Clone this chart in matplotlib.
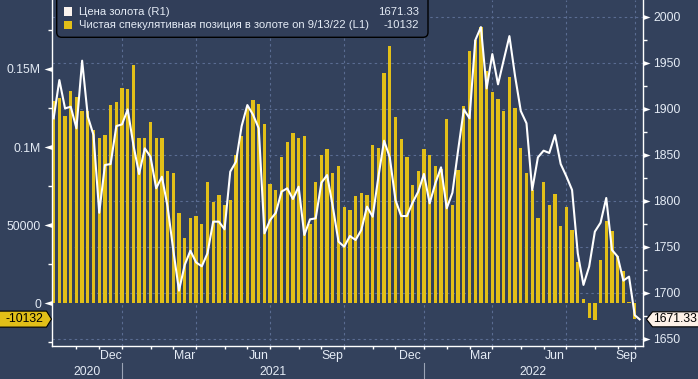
import numpy as np
import pandas as pd
import matplotlib
matplotlib.use("Agg")
import matplotlib.pyplot as plt
import matplotlib.transforms as mtransforms
from matplotlib.patches import Polygon, FancyBboxPatch, Rectangle
from matplotlib.path import Path

# ---------------- data ----------------
dates = pd.date_range("2020-10-02", periods=103, freq="7D")  # weekly (Fridays)

positioning = [
    129700, 131700, 120100, 136100, 132300, 122900, 123300, 111200, 105600, 108000,
    127200, 128700, 138100, 137400, 152800, 106100, 105600, 116300, 106100, 106100,
    84500, 83700, 58000, 42000, 54800, 56100, 51000, 77900, 65100, 69600,
    63200, 66400, 95000, 107300, 125000, 130400, 127800, 115000, 76600, 72800,
    93500, 103500, 109000, 106100, 107300, 51000, 77900, 95200, 99000, 83700,
    88100, 61900, 60000, 68500, 70400, 69600, 101600, 99700, 147200, 165000,
    119500, 105400, 93900, 76000, 84900, 99000, 95200, 88100, 86000, 118200,
    63200, 85600, 126500, 161800, 168400, 176700, 148700, 135100, 131000, 123300,
    145100, 125300, 99700, 83700, 72600, 54800, 77900, 63200, 70200, 49700,
    61900, 47200, 26700, 3000, -9600, -10500, 28000, 52900, 46500, 30500,
    20900, 1100, -10132,
]

gold_price = [
    1889.6, 1931.2, 1900.4, 1902.2, 1878.7, 1952.2, 1891.4, 1871.5, 1787.1, 1838.9,
    1840.0, 1881.2, 1883.0, 1899.3, 1860.6, 1829.1, 1857.0, 1847.9, 1813.6, 1826.2,
    1793.7, 1746.6, 1702.5, 1730.3, 1745.9, 1733.2, 1728.9, 1743.0, 1777.4, 1777.4,
    1769.1, 1831.7, 1842.5, 1881.2, 1904.0, 1893.5, 1878.7, 1764.7, 1779.2, 1787.1,
    1810.0, 1813.6, 1802.0, 1815.4, 1762.9, 1779.9, 1781.0, 1819.7, 1828.0, 1793.7,
    1755.7, 1750.2, 1761.8, 1757.5, 1768.3, 1793.7, 1782.8, 1826.0, 1865.3, 1847.2,
    1800.9, 1783.5, 1783.5, 1798.0, 1810.0, 1829.2, 1797.3, 1819.0, 1836.4, 1791.9,
    1808.9, 1855.2, 1899.3, 1889.6, 1974.2, 1988.7, 1922.1, 1959.4, 1926.5, 1952.9,
    1978.9, 1935.2, 1897.5, 1884.2, 1811.8, 1847.2, 1854.5, 1852.0, 1871.5, 1840.0,
    1826.6, 1811.8, 1743.0, 1708.7, 1728.6, 1766.6, 1776.3, 1803.1, 1746.7, 1739.4,
    1713.4, 1717.7, 1675.8,
]
gold_last_date = pd.Timestamp("2022-09-22")
gold_last = 1671.33

left_tick_values = [0, 50000, 100000, 150000]
left_tick_labels = ["0", "50000", "0.1M", "0.15M"]
left_minor_values = [-25000, 25000, 75000, 125000, 175000]
right_tick_values = [1650, 1700, 1750, 1800, 1850, 1900, 1950, 2000]
right_minor_values = [1675, 1725, 1775, 1825, 1875, 1925, 1975]
month_starts = pd.date_range("2020-11-01", "2022-10-01", freq="MS")
labelled_months = ["Dec", "Mar", "Jun", "Sep"]
grid_months = [1, 4, 7, 10]

legend_gold = "Цена золота (R1)"
legend_pos = "Чистая спекулятивная позиция в золоте on 9/13/22 (L1)"

# ---------------- style ----------------
W, H = 698, 379
BG = "#33415c"
GOLD = "#e2bf18"
TXT = "#e4ebf5"
GRID = "#5a6c92"
plt.rcParams["font.family"] = ["Liberation Sans", "DejaVu Sans"]
FS = 8.8
LFS = 8.1

fig = plt.figure(figsize=(W / 100, H / 100), dpi=100, facecolor=BG)
L, R, B = 52, 643, 33.3
ax = fig.add_axes([L / W, B / H, (R - L) / W, (H - B) / H])
ax.set_facecolor(BG)
ax2 = ax.twinx()

x = np.arange(len(dates))
ax.bar(x, positioning, width=0.58, color=GOLD, zorder=2, linewidth=0)
ax.set_xlim(-0.29, 103.45)
ax.set_ylim(-27150, 194170)
ax2.set_ylim(1642.7, 2018.1)

gx = np.append(x, (gold_last_date - dates[0]).days / 7.0)
gy = np.append(gold_price, gold_last)
ax2.plot(gx, gy, color="white", lw=1.5, zorder=3)

# spines
for s in ["top", "right"]:
    ax.spines[s].set_visible(False)
for s in ["top", "left", "bottom"]:
    ax2.spines[s].set_visible(False)
ax.spines["left"].set_color("white")
ax.spines["bottom"].set_color("white")
ax2.spines["right"].set_color("white")
for sp in (ax.spines["left"], ax.spines["bottom"], ax2.spines["right"]):
    sp.set_linewidth(1.0)

# y ticks
ax.set_yticks(left_tick_values, labels=left_tick_labels)
ax.set_yticks(left_minor_values, minor=True)
ax.tick_params(axis="y", which="major", length=0, pad=8, labelsize=FS, labelcolor=TXT)
ax.tick_params(axis="y", which="minor", length=3, width=1, color="white", direction="out")
ax2.set_yticks(right_tick_values, labels=[str(v) for v in right_tick_values])
ax2.set_yticks(right_minor_values, minor=True)
ax2.tick_params(axis="y", which="major", length=0, pad=7.3, labelsize=FS, labelcolor=TXT)
ax2.tick_params(axis="y", which="minor", length=3, width=1, color="white", direction="out")

# triangle tick markers
tri_r = Path([(0, -2.5), (7, 0), (0, 2.5), (0, -2.5)])
tri_l = Path([(0, -2.5), (-8, 0), (0, 2.5), (0, -2.5)])
ax2.plot(np.ones(len(right_tick_values)), right_tick_values, ls="none", marker=tri_r,
         ms=10.08, color="white", mec="white", mew=0,
         transform=mtransforms.blended_transform_factory(ax2.transAxes, ax2.transData),
         clip_on=False, zorder=6)
ax.plot(np.zeros(len(left_tick_values)), left_tick_values, ls="none", marker=tri_l,
        ms=11.52, color="white", mec="white", mew=0,
        transform=mtransforms.blended_transform_factory(ax.transAxes, ax.transData),
        clip_on=False, zorder=6)

# month ticks (last weekly point before each month start)
month_idx = [int(np.searchsorted(dates.values, m.to_datetime64(), side="left")) - 1
             for m in month_starts]
ax.set_xticks(month_idx)
ax.tick_params(axis="x", which="major", length=2.3, width=1, color="white",
               direction="out", labelbottom=False)

# grid lines
hgrid_tr = mtransforms.blended_transform_factory(ax.transAxes, ax2.transData)
for v in right_tick_values:
    ax.plot([0, 1], [v, v], transform=hgrid_tr, color=GRID, lw=0.8,
            ls=(0, (2.2, 2.8)), zorder=1)
for m, i in zip(month_starts, month_idx):
    if m.month in grid_months:
        ax.axvline(i, color=GRID, lw=0.8, ls=(0, (2.2, 2.8)), zorder=1)

# month and year labels
xb = mtransforms.blended_transform_factory(ax.transData, ax.transAxes)
axh = H - B
def ax_y(px_below):
    return -px_below / axh
for k in range(len(month_starts) - 1):
    m = month_starts[k]
    if m.strftime("%b") in labelled_months:
        xc = 0.5 * (month_idx[k] + month_idx[k + 1])
        ax.text(xc, ax_y(10.5), m.strftime("%b"), transform=xb, ha="center",
                va="center", fontsize=FS, color=TXT, clip_on=False)

xmin, xmax = ax.get_xlim()
year_bounds = [xmin] + [i for m, i in zip(month_starts, month_idx) if m.month == 1] + [xmax]
years = [dates[0].year + k for k in range(len(year_bounds) - 1)]
for k, yr in enumerate(years):
    xc = 0.5 * (year_bounds[k] + year_bounds[k + 1])
    ax.text(xc, ax_y(26.5), str(yr), transform=xb, ha="center", va="center",
            fontsize=FS, color=TXT, clip_on=False)
for b in year_bounds[1:-1]:
    ax.plot([b, b], [ax_y(17.5), ax_y(34)], transform=xb, color="#9aa3b5", lw=0.8,
            clip_on=False, zorder=1)

# ---------------- legend ----------------
def inch(px_x, px_y_top):
    return px_x / 100.0, (H - px_y_top) / 100.0

lx0, ly0 = inch(56.7, 37.3)
box = FancyBboxPatch((lx0, ly0), (428 - 56.7) / 100.0, 0.5,
                     boxstyle="round,pad=0,rounding_size=0.05",
                     transform=fig.dpi_scale_trans, fc="#313e59", ec="black", lw=1.0)
fig.add_artist(box)
for (yt, col, label, val) in [
    (7.3, "#fbf3ee", legend_gold, f"{gold_last:.2f}"),
    (20.7, GOLD, legend_pos, f"{positioning[-1]}"),
]:
    sx, sy = inch(64.3, yt + 8.6)
    fig.add_artist(Rectangle((sx, sy), 0.08, 0.086, transform=fig.dpi_scale_trans,
                             fc=col, ec="none"))
    tx, ty = inch(79, yt + 4.6)
    fig.text(tx / (W / 100), ty / (H / 100), label, fontsize=LFS, color=TXT,
             ha="left", va="center")
    vx, vy = inch(419, yt + 4.6)
    fig.text(vx / (W / 100), vy / (H / 100), val, fontsize=LFS, color=TXT,
             ha="right", va="center")

# ---------------- value tags ----------------
ident = mtransforms.IdentityTransform()
fig.canvas.draw()
sxl = ax.transAxes.transform((0, 0))[0]
sxr = ax2.transAxes.transform((1, 0))[0]
yb = ax.transData.transform((0, positioning[-1]))[1]
yg = ax2.transData.transform((0, gold_last))[1]

left_tag = Polygon([(-2, yb - 8), (sxl - 5.5, yb - 8), (sxl - 0.5, yb),
                    (sxl - 5.5, yb + 8), (-2, yb + 8)], closed=True,
                   transform=ident, fc=GOLD, ec="black", lw=0.8)
fig.add_artist(left_tag)
fig.text((sxl - 8.5) / W, yb / H, f"{positioning[-1]}", fontsize=FS, color="black",
         ha="right", va="center")

right_tag = Polygon([(sxr + 3.5, yg), (sxr + 9.5, yg - 7.5), (W + 2, yg - 7.5),
                     (W + 2, yg + 7.5), (sxr + 9.5, yg + 7.5)], closed=True,
                    transform=ident, fc="#fdf1e8", ec="black", lw=0.8)
fig.add_artist(right_tag)
fig.text((sxr + 10) / W, yg / H, f"{gold_last:.2f}", fontsize=FS, color="black",
         ha="left", va="center")

fig.savefig("out.png", dpi=100, facecolor=BG)
